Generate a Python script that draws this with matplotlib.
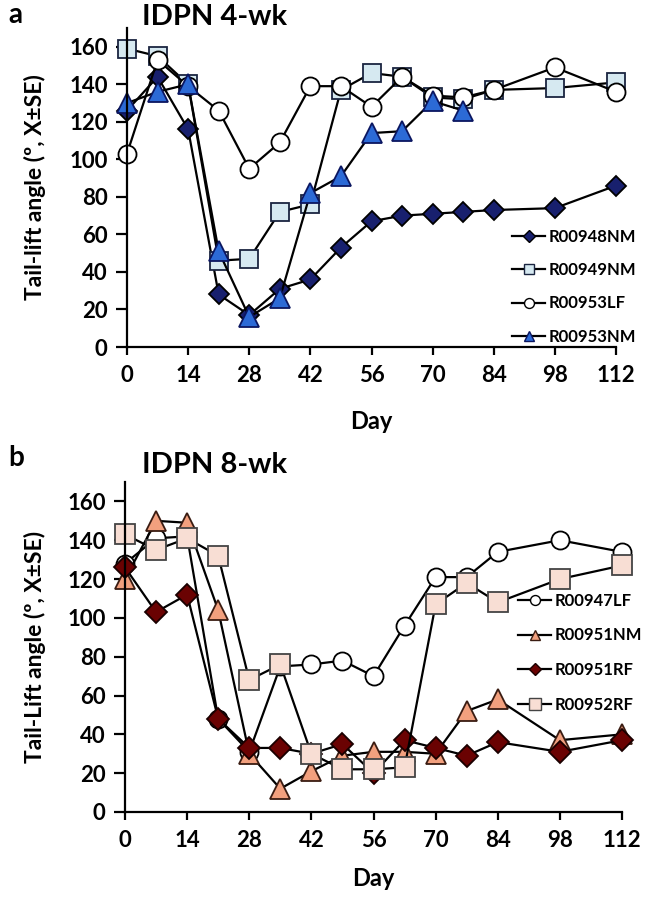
import matplotlib
matplotlib.use("Agg")
import matplotlib.pyplot as plt
from matplotlib.lines import Line2D

plt.rcParams['font.family'] = ['Lato', 'DejaVu Sans']
plt.rcParams['font.weight'] = 'bold'

days = [0, 7, 14, 21, 28, 35, 42, 49, 56, 63, 70, 77, 84, 98, 112]
xticks = [0, 14, 28, 42, 56, 70, 84, 98, 112]
yticks = [0, 20, 40, 60, 80, 100, 120, 140, 160]

# Panel a: IDPN 4-wk
a_R00948NM = [126, 144, 116, 28, 17, 31, 36, 53, 67, 70, 71, 72, 73, 74, 86]
a_R00949NM = [159, 155, 140, 46, 47, 72, 76, 137, 146, 144, 133, 132, 137, 138, 141]
a_R00953LF = [103, 153, 139, 126, 95, 109, 139, 139, 128, 144, 134, 133, 137, 149, 136]
a_R00953NM_days = [0, 7, 14, 21, 28, 35, 42, 49, 56, 63, 70, 77]
a_R00953NM = [130, 136, 140, 51, 16, 26, 82, 91, 114, 115, 131, 126]

# Panel b: IDPN 8-wk
b_R00947LF = [128, 141, 142, 48, 31, 75, 76, 78, 70, 96, 121, 121, 134, 140, 134]
b_R00951NM = [120, 150, 149, 104, 30, 12, 21, 29, 31, 31, 30, 52, 58, 37, 40]
b_R00951RF = [126, 103, 112, 48, 33, 33, 30, 35, 20, 37, 33, 29, 36, 31, 37]
b_R00952RF = [143, 135, 141, 132, 68, 76, 30, 22, 22, 23, 107, 118, 108, 120, 127]

W, H = 645, 899
fig = plt.figure(figsize=(W / 100, H / 100), dpi=100)


def px_axes(left, right, top, bottom):
    return fig.add_axes([left / W, 1 - bottom / H, (right - left) / W, (bottom - top) / H])


def style_axes(ax, ylabel, ylab_x, day_y):
    ax.set_xlim(0, 112)
    ax.set_ylim(0, 170)
    ax.set_xticks(xticks)
    ax.set_yticks(yticks)
    for s in ['top', 'right']:
        ax.spines[s].set_visible(False)
    for s in ['left', 'bottom']:
        ax.spines[s].set_linewidth(1.6)
        ax.spines[s].set_color('black')
    ax.tick_params(axis='x', direction='out', length=6, width=1.6, pad=7, labelsize=16)
    ax.tick_params(axis='y', direction='out', length=8, width=1.6, pad=6, labelsize=16)
    for lab in ax.get_xticklabels() + ax.get_yticklabels():
        lab.set_fontweight('bold')
    ax.set_ylabel(ylabel, fontsize=16.5, fontweight='bold')
    ax.yaxis.set_label_coords(ylab_x, 0.5)
    ax.text(0.5, day_y, 'Day', transform=ax.transAxes, ha='center', va='center',
            fontsize=17, fontweight='bold')


lw = 1.6
mew = 1.3

# ---------- panel a ----------
axa = px_axes(127, 616, 28, 347)
series_a = [
    (days, a_R00948NM, 'D', '#18206E', '#000000', 10.5, 'R00948NM'),
    (days, a_R00949NM, 's', '#D6E9F1', '#1A2440', 13, 'R00949NM'),
    (days, a_R00953LF, 'o', '#FFFFFF', '#000000', 13, 'R00953LF'),
    (a_R00953NM_days, a_R00953NM, '^', '#2C6AD6', '#0B1660', 14, 'R00953NM'),
]
handles = []
for x, y, m, fc, ec, ms, lab in series_a:
    axa.plot(x, y, color='black', lw=lw, marker=m, markersize=ms,
             markerfacecolor=fc, markeredgecolor=ec, markeredgewidth=mew, clip_on=False)
    handles.append(Line2D([], [], color='black', lw=lw, marker=m, markersize=ms * 0.55,
                          markerfacecolor=fc, markeredgecolor=ec, markeredgewidth=1.0, label=lab))
style_axes(axa, 'Tail-lift angle (º, X±SE)', -0.165, -0.232)
fig.legend(handles=handles, loc='upper left', bbox_to_anchor=(512 / W, 1 - 229 / H),
           frameon=False, handlelength=2.0, handletextpad=0.2,
           labelspacing=1.03, borderpad=0, borderaxespad=0,
           prop={'weight': 'bold', 'size': 12})
fig.text(142 / W, 1 - 17 / H, 'IDPN 4-wk', ha='left', va='center', fontsize=21, fontweight='bold')
fig.text(8 / W, 1 - 15 / H, 'a', ha='left', va='center', fontsize=20, fontweight='bold')

# ---------- panel b ----------
axb = px_axes(125, 622, 482, 812)
series_b = [
    (days, b_R00947LF, 'o', '#FFFFFF', '#000000', 13, 'R00947LF'),
    (days, b_R00951NM, '^', '#F2A07E', '#3A1C12', 14, 'R00951NM'),
    (days, b_R00951RF, 'D', '#6A0202', '#1A0000', 11, 'R00951RF'),
    (days, b_R00952RF, 's', '#F8DED4', '#444444', 15, 'R00952RF'),
]
handles = []
for x, y, m, fc, ec, ms, lab in series_b:
    axb.plot(x, y, color='black', lw=lw, marker=m, markersize=ms,
             markerfacecolor=fc, markeredgecolor=ec, markeredgewidth=mew, clip_on=False)
    handles.append(Line2D([], [], color='black', lw=lw, marker=m, markersize=ms * 0.55,
                          markerfacecolor=fc, markeredgecolor=ec, markeredgewidth=1.0, label=lab))
style_axes(axb, 'Tail-Lift angle (º, X±SE)', -0.158, -0.2)
fig.legend(handles=handles, loc='upper left', bbox_to_anchor=(518 / W, 1 - 593 / H),
           frameon=False, handlelength=2.0, handletextpad=0.2,
           labelspacing=1.11, borderpad=0, borderaxespad=0,
           prop={'weight': 'bold', 'size': 12})
fig.text(142 / W, 1 - 465 / H, 'IDPN 8-wk', ha='left', va='center', fontsize=21, fontweight='bold')
fig.text(8 / W, 1 - 458 / H, 'b', ha='left', va='center', fontsize=20, fontweight='bold')

fig.savefig('out.png', dpi=100)
